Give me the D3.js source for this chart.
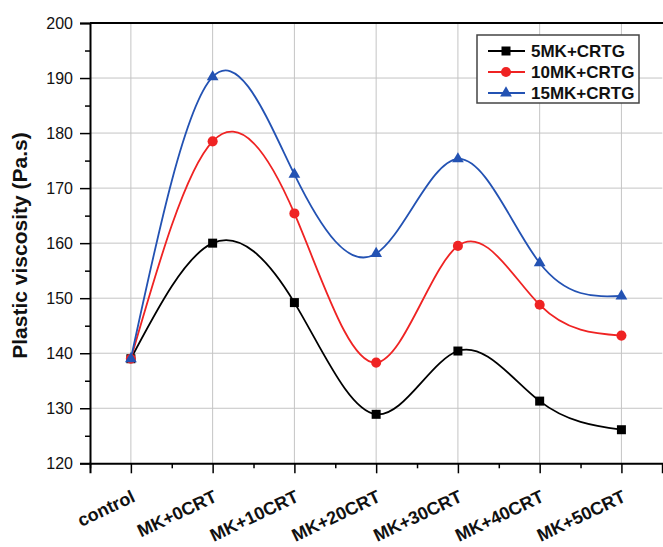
<!DOCTYPE html>
<html>
<head>
<meta charset="utf-8">
<script src="https://cdn.jsdelivr.net/npm/d3@7"></script>
<style>
  body { margin: 0; background: #fff; }
  svg { display: block; font-family: Arial, "Liberation Sans", sans-serif; }
</style>
</head>
<body>
<div id="chart"></div>
<script>
const categories = ["control", "MK+0CRT", "MK+10CRT", "MK+20CRT", "MK+30CRT", "MK+40CRT", "MK+50CRT"];
const mk5 = [139, 160, 149.2, 128.9, 140.4, 131.3, 126.1];
const mk10 = [139, 178.5, 165.4, 138.3, 159.5, 148.8, 143.2];
const mk15 = [139, 190.2, 172.5, 158.1, 175.3, 156.4, 150.4];
const seriesNames = ["5MK+CRTG", "10MK+CRTG", "15MK+CRTG"];
const yTicks = [120, 130, 140, 150, 160, 170, 180, 190, 200];

const width = 663, height = 547;
const plotLeft = 90, plotTop = 23, plotBottom = 463.3, plotRight = 662.3;

const svg = d3.select("#chart")
    .append("svg")
        .attr("width", width)
        .attr("height", height);

const xScale = d3.scaleLinear()
    .domain([-0.5, 6.5])
    .range([plotLeft, plotRight]);

const yScale = d3.scaleLinear()
    .domain([120, 200])
    .range([plotBottom, plotTop]);

// grid
svg.append("g")
    .selectAll("line")
    .data(d3.range(0, categories.length))
    .join("line")
        .attr("x1", d => xScale(d))
        .attr("x2", d => xScale(d))
        .attr("y1", plotTop)
        .attr("y2", plotBottom)
        .attr("stroke", "#c4c4c4")
        .attr("stroke-width", 1);

svg.append("g")
    .selectAll("line")
    .data(yTicks.slice(1, -1))
    .join("line")
        .attr("x1", plotLeft)
        .attr("x2", plotRight)
        .attr("y1", d => yScale(d))
        .attr("y2", d => yScale(d))
        .attr("stroke", "#c4c4c4")
        .attr("stroke-width", 1);

// top border
svg.append("line")
    .attr("x1", plotLeft).attr("x2", width)
    .attr("y1", plotTop).attr("y2", plotTop)
    .attr("stroke", "#000").attr("stroke-width", 2);

// y axis
const yAxis = svg.append("g")
    .attr("transform", `translate(${plotLeft},0)`)
    .call(d3.axisLeft(yScale).tickValues(yTicks).tickSize(10).tickPadding(7));
yAxis.selectAll("text").attr("font-size", 16).attr("font-family", "Arial, 'Liberation Sans', sans-serif").attr("fill", "#111");
yAxis.append("g")
    .call(d3.axisLeft(yScale).tickValues(d3.range(125, 200, 10)).tickSize(5).tickFormat(""))
    .select(".domain").remove();

// x axis
const xAxis = svg.append("g")
    .attr("transform", `translate(0,${plotBottom})`)
    .call(d3.axisBottom(xScale).tickValues(d3.range(0, categories.length)).tickSize(10).tickFormat(i => categories[i]));
xAxis.selectAll("text")
    .attr("x", 0).attr("y", 0).attr("dy", 0)
    .attr("font-size", 18)
    .attr("font-weight", "bold")
    .attr("font-family", "Arial, 'Liberation Sans', sans-serif")
    .attr("fill", "#111")
    .attr("text-anchor", "end")
    .attr("transform", "translate(5,37.5) rotate(-25.5)");
xAxis.append("g")
    .call(d3.axisBottom(xScale).tickValues(d3.range(-0.5, 6.6, 1)).tickSize(5).tickFormat(""))
    .select(".domain").remove();
svg.selectAll(".domain").attr("stroke-width", 2);
svg.selectAll(".tick line").attr("stroke-width", 1.5);

// y label
svg.append("text")
    .attr("transform", "translate(27,245.5) rotate(-90)")
    .attr("text-anchor", "middle")
    .attr("font-size", 21)
    .attr("font-weight", "bold")
    .attr("fill", "#111")
    .text("Plastic viscosity (Pa.s)");

const series = [
    { name: seriesNames[0], values: mk5, color: "#000000", symbol: d3.symbolSquare, size: 81 },
    { name: seriesNames[1], values: mk10, color: "#ef2323", symbol: d3.symbolCircle, size: 80 },
    { name: seriesNames[2], values: mk15, color: "#2352b3", symbol: d3.symbolTriangle, size: 60 }
];

const line = d3.line()
    .x((d, i) => xScale(i))
    .y(d => yScale(d))
    .curve(d3.curveNatural);

series.forEach(s => {
    svg.append("path")
        .datum(s.values)
        .attr("d", line)
        .attr("fill", "none")
        .attr("stroke", s.color)
        .attr("stroke-width", 1.8);
});
series.forEach(s => {
    svg.append("g")
        .selectAll("path")
        .data(s.values)
        .join("path")
            .attr("transform", (d, i) => `translate(${xScale(i)},${yScale(d)})`)
            .attr("d", d3.symbol(s.symbol, s.size))
            .attr("fill", s.color);
});

// legend
const legend = svg.append("g").attr("transform", "translate(477,35)");
legend.append("rect")
    .attr("width", 162).attr("height", 68)
    .attr("fill", "#fff")
    .attr("stroke", "#444").attr("stroke-width", 1.5);
series.forEach((s, i) => {
    const y = 16 + i * 21;
    legend.append("line")
        .attr("x1", 11).attr("x2", 48).attr("y1", y).attr("y2", y)
        .attr("stroke", s.color).attr("stroke-width", 1.8);
    legend.append("path")
        .attr("transform", `translate(29,${y})`)
        .attr("d", d3.symbol(s.symbol, s.size))
        .attr("fill", s.color);
    legend.append("text")
        .attr("x", 54).attr("y", y).attr("dy", "0.36em")
        .attr("font-size", 17).attr("font-weight", "bold")
        .attr("fill", "#111")
        .text(s.name);
});
</script>
</body>
</html>
